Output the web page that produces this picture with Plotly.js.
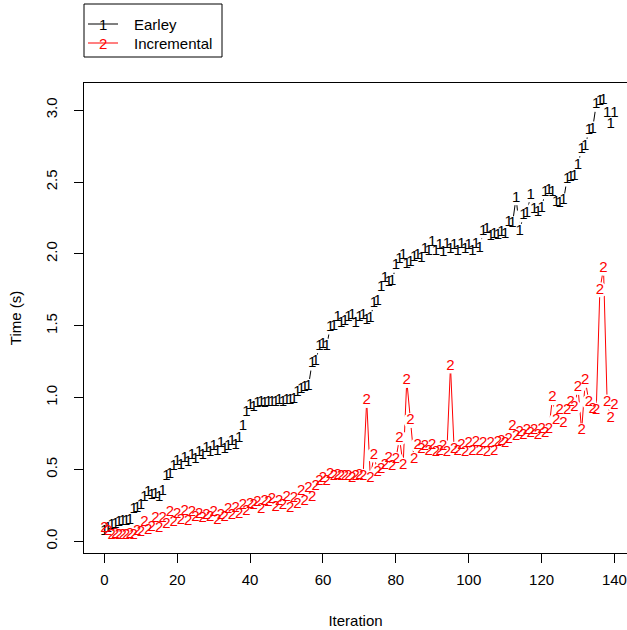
<!DOCTYPE html>
<html>
<head>
<meta charset="utf-8">
<script src="https://cdn.plot.ly/plotly-3.0.1.min.js"></script>
<style>
  html, body { margin: 0; padding: 0; background: #ffffff; }
  #chart { width: 627px; height: 630px; }
</style>
</head>
<body>
<div id="chart"></div>
<script>
// Series values (Time in seconds per iteration)
const earley = [
  0.07,0.09,0.11,0.12,0.13,0.14,0.14,0.15,0.22,0.23,
  0.25,0.31,0.34,0.32,0.33,0.31,0.35,0.45,0.47,0.52,
  0.56,0.53,0.58,0.55,0.60,0.57,0.62,0.60,0.65,0.62,
  0.66,0.63,0.68,0.64,0.66,0.70,0.67,0.72,0.80,0.90,
  0.95,0.93,0.96,0.97,0.96,0.97,0.97,0.97,0.98,0.97,
  0.98,0.98,0.99,1.04,1.06,1.07,1.08,1.24,1.25,1.36,
  1.37,1.36,1.49,1.50,1.56,1.52,1.53,1.56,1.57,1.52,
  1.56,1.57,1.54,1.55,1.66,1.67,1.77,1.83,1.80,1.81,
  1.92,1.96,1.99,1.93,1.94,1.98,1.99,1.97,2.03,2.02,
  2.08,2.02,2.06,2.01,2.07,2.03,2.06,2.02,2.07,2.03,
  2.06,2.02,2.07,2.04,2.16,2.17,2.12,2.14,2.13,2.15,
  2.14,2.22,2.21,2.39,2.16,2.27,2.28,2.41,2.31,2.29,
  2.32,2.43,2.44,2.43,2.36,2.35,2.37,2.52,2.53,2.54,
  2.62,2.73,2.75,2.86,2.87,3.04,3.06,3.07,2.98,2.90,2.98
];
const incremental = [
  0.09,0.07,0.04,0.05,0.04,0.04,0.04,0.05,0.04,0.07,
  0.06,0.13,0.08,0.10,0.16,0.09,0.16,0.12,0.20,0.13,
  0.19,0.15,0.21,0.14,0.20,0.17,0.19,0.16,0.18,0.17,
  0.20,0.15,0.18,0.17,0.22,0.18,0.23,0.19,0.25,0.21,
  0.26,0.25,0.27,0.22,0.28,0.27,0.29,0.24,0.28,0.25,
  0.31,0.23,0.30,0.26,0.35,0.28,0.37,0.31,0.38,0.42,
  0.44,0.42,0.47,0.45,0.46,0.45,0.45,0.45,0.44,0.45,
  0.46,0.45,0.98,0.44,0.60,0.48,0.50,0.53,0.58,0.52,
  0.57,0.72,0.53,1.12,0.84,0.57,0.67,0.64,0.66,0.63,
  0.67,0.62,0.63,0.66,0.62,1.22,0.64,0.63,0.67,0.62,
  0.68,0.63,0.69,0.63,0.68,0.62,0.68,0.63,0.69,0.70,
  0.68,0.71,0.80,0.73,0.76,0.74,0.77,0.75,0.77,0.74,
  0.78,0.75,0.78,1.00,0.84,0.91,0.82,0.91,0.97,0.93,
  1.07,0.77,1.12,0.97,0.92,0.91,1.75,1.90,0.97,0.86,0.95
];
const iteration = earley.map((_, i) => i);
const seriesNames = ["Earley", "Incremental"];
const seriesSymbols = ["1", "2"];
const seriesColors = ["#000000", "#ff0000"];
const xTicks = [0, 20, 40, 60, 80, 100, 120, 140];
const yTicks = [0.0, 0.5, 1.0, 1.5, 2.0, 2.5, 3.0];

const FONT = "Liberation Sans, Arial, Helvetica, sans-serif";
const seriesValues = [earley, incremental];

// R type="b": lines with gaps around the plotting characters -> white masks under text
const lineTraces = seriesValues.map((vals, k) => ({
  x: iteration, y: vals, type: "scatter", mode: "lines+markers",
  line: {color: seriesColors[k], width: 1},
  marker: {color: "#ffffff", size: 15, symbol: "circle", line: {width: 0}},
  hoverinfo: "skip", showlegend: false
}));
const textTraces = seriesValues.map((vals, k) => ({
  x: iteration, y: vals, type: "scatter", mode: "text",
  text: vals.map(() => seriesSymbols[k]),
  textposition: "middle center",
  textfont: {family: FONT, size: 15, color: seriesColors[k]},
  name: seriesNames[k], showlegend: false, hoverinfo: "x+y"
}));

// plot area in pixels: left 84, right 627, top 83, bottom 553
const L = 84, R = 627, T = 83, B = 553;
const px = v => (v - L) / (R - L);
const py = v => (B - v) / (B - T);

const shapes = [
  {type: "rect", xref: "paper", yref: "paper", x0: px(84), x1: px(222), y0: py(57), y1: py(4),
   line: {color: "#000000", width: 1}, fillcolor: "rgba(0,0,0,0)"},
  {type: "line", xref: "paper", yref: "paper", x0: px(88), x1: px(118), y0: py(24), y1: py(24),
   line: {color: seriesColors[0], width: 1}},
  {type: "line", xref: "paper", yref: "paper", x0: px(88), x1: px(118), y0: py(43), y1: py(43),
   line: {color: seriesColors[1], width: 1}}
];
const annotations = [];
[24, 43].forEach((yy, k) => {
  annotations.push({xref: "paper", yref: "paper", x: px(103), y: py(yy), text: seriesSymbols[k],
    showarrow: false, xanchor: "center", yanchor: "middle",
    font: {family: FONT, size: 15, color: seriesColors[k]}});
  annotations.push({xref: "paper", yref: "paper", x: px(132), y: py(yy), text: seriesNames[k],
    showarrow: false, xanchor: "left", yanchor: "middle",
    font: {family: FONT, size: 15, color: "#000000"}});
});

const layout = {
  width: 627, height: 630, autosize: false,
  margin: {l: L, r: 627 - R, t: T, b: 630 - B, pad: 0},
  paper_bgcolor: "#ffffff", plot_bgcolor: "#ffffff",
  font: {family: FONT, size: 15, color: "#000000"},
  showlegend: false,
  xaxis: {
    range: [-5.6, 143.45], tickvals: xTicks, ticktext: xTicks.map(String),
    ticks: "outside", ticklen: 9, tickwidth: 1, tickcolor: "#000000",
    ticklabelstandoff: 4,
    showline: true, mirror: true, linecolor: "#000000", linewidth: 1,
    showgrid: false, zeroline: false,
    tickfont: {family: FONT, size: 15, color: "#000000"},
    title: {text: "Iteration", font: {family: FONT, size: 15, color: "#000000"}, standoff: 28},
    automargin: false
  },
  yaxis: {
    range: [-0.081, 3.189], tickvals: yTicks, ticktext: yTicks.map(v => v.toFixed(1)),
    ticks: "outside", ticklen: 9, tickwidth: 1, tickcolor: "#000000", tickangle: -90,
    ticklabelstandoff: 11,
    showline: true, mirror: false, linecolor: "#000000", linewidth: 1,
    showgrid: false, zeroline: false,
    tickfont: {family: FONT, size: 15, color: "#000000"},
    title: {text: "Time (s)", font: {family: FONT, size: 15, color: "#000000"}, standoff: 17},
    automargin: false
  },
  shapes: shapes,
  annotations: annotations
};

Plotly.newPlot("chart", lineTraces.concat(textTraces), layout, {displayModeBar: false, staticPlot: true});
</script>
</body>
</html>
